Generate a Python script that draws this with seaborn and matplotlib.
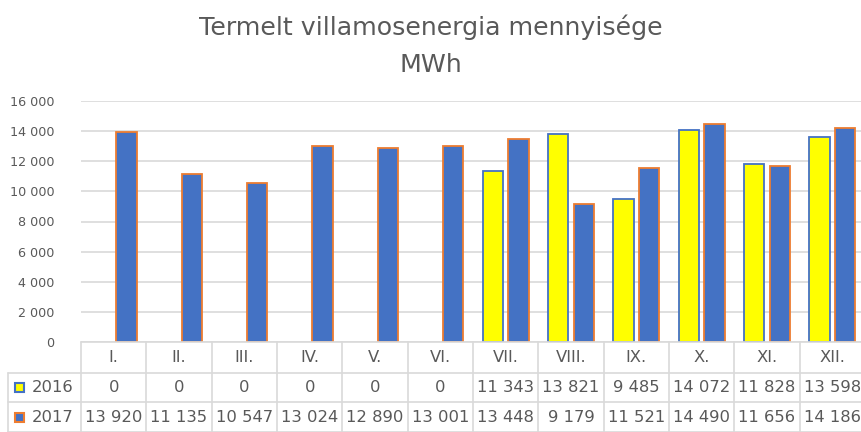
import matplotlib
matplotlib.use("Agg")
import matplotlib.pyplot as plt
import seaborn as sns
import pandas as pd
from matplotlib.lines import Line2D
from matplotlib.patches import Rectangle
from matplotlib.transforms import blended_transform_factory

months = ["I.", "II.", "III.", "IV.", "V.", "VI.", "VII.", "VIII.", "IX.", "X.", "XI.", "XII."]
series = ["2016", "2017"]
v2016 = [0, 0, 0, 0, 0, 0, 11343, 13821, 9485, 14072, 11828, 13598]
v2017 = [13920, 11135, 10547, 13024, 12890, 13001, 13448, 9179, 11521, 14490, 11656, 14186]
yticks = [0, 2000, 4000, 6000, 8000, 10000, 12000, 14000, 16000]
title_lines = ["Termelt villamosenergia mennyisége", "MWh"]

fill = {"2016": "#FFFF00", "2017": "#4472C4"}
edge = {"2016": "#4472C4", "2017": "#ED7D31"}
txt = "#595959"
grid = "#D9D9D9"

df = pd.DataFrame({
    "month": months * 2,
    "year": ["2016"] * 12 + ["2017"] * 12,
    "value": v2016 + v2017,
})

sns.set_theme(style="white")
plt.rcParams["font.family"] = ["DejaVu Sans"]

W, H = 861, 432
fig = plt.figure(figsize=(W / 100, H / 100), dpi=100)
x0, x1, yb, yt = 81, 865, 342, 101
ax = fig.add_axes([x0 / W, (H - yb) / H, (x1 - x0) / W, (yb - yt) / H])

sns.barplot(data=df, x="month", y="value", hue="year", order=months, hue_order=series,
            palette=fill, saturation=1, width=0.78, gap=0.2, ax=ax, legend=False,
            linewidth=1.3)

for cont, s in zip(ax.containers, series):
    for p in cont:
        p.set_edgecolor(edge[s])
        p.set_zorder(3)
        if p.get_height() == 0:
            p.set_visible(False)

ax.set_ylim(0, 16000)
ax.set_xlim(-0.5, 11.5)
ax.set_yticks(yticks)
ax.set_yticklabels([f"{t:,}".replace(",", " ") for t in yticks], color=txt, fontsize=9.2)
ax.tick_params(axis="y", length=0, pad=19)
ax.set_xticks([])
ax.set_xlabel("")
ax.set_ylabel("")
for sp in ax.spines.values():
    sp.set_visible(False)
ax.yaxis.grid(True, color=grid, linewidth=1.2, zorder=0)
ax.set_axisbelow(True)

def fy(py):
    return 1 - py / H

fig.text(0.5, fy(35), title_lines[0], ha="center", va="baseline", fontsize=18.2, color=txt)
fig.text(0.5, fy(72), title_lines[1], ha="center", va="baseline", fontsize=18.2, color=txt)

bt = blended_transform_factory(ax.transData, fig.transFigure)

rows_y = [342, 373, 402, 432]
lkw = dict(color=grid, linewidth=1.2, clip_on=False)
fig.add_artist(Line2D([x0 / W, 1.01], [fy(342)] * 2, **lkw))
for ry in rows_y[1:]:
    fig.add_artist(Line2D([8 / W, 1.01], [fy(ry)] * 2, **lkw))
for i in range(13):
    fig.add_artist(Line2D([i - 0.5, i - 0.5], [fy(342), fy(432)], transform=bt, **lkw))
fig.add_artist(Line2D([8 / W] * 2, [fy(373), fy(432)], **lkw))

tfs = 11.8
for i, m in enumerate(months):
    fig.text(i, fy(357.5), m, transform=bt, ha="center", va="center", fontsize=tfs, color=txt)
    fig.text(i, fy(387.5), f"{v2016[i]:,}".replace(",", " "), transform=bt,
             ha="center", va="center", fontsize=tfs, color=txt)
    fig.text(i, fy(417), f"{v2017[i]:,}".replace(",", " "), transform=bt,
             ha="center", va="center", fontsize=tfs, color=txt)

for s, cy in zip(series, [387.5, 417]):
    fig.add_artist(Rectangle((15 / W, fy(cy + 4.5)), 9 / W, 9 / H, facecolor=fill[s],
                             edgecolor=edge[s], linewidth=1.5))
    fig.text(32 / W, fy(cy), s, ha="left", va="center", fontsize=tfs, color=txt)

fig.savefig("out.png", dpi=100, facecolor="white")
